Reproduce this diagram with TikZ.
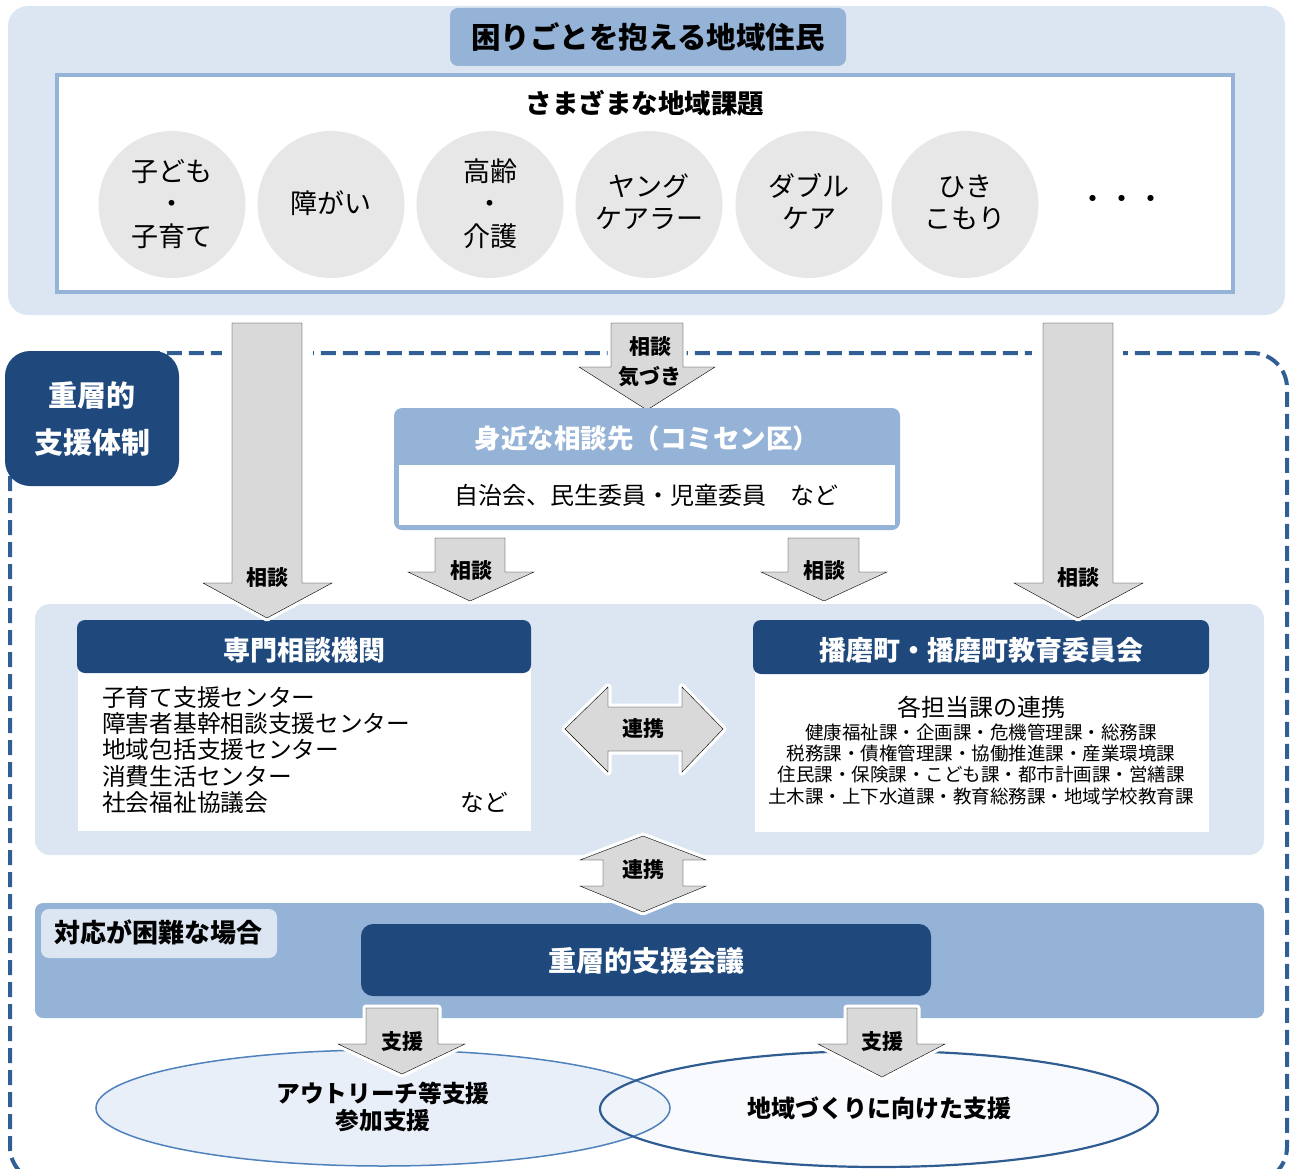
\documentclass[tikz,border=0pt]{standalone}
\usepackage{fontspec}
\setmainfont{Noto Sans CJK JP}
\definecolor{lb}{HTML}{DCE6F2}
\definecolor{mb}{HTML}{95B3D7}
\definecolor{db}{HTML}{1F497D}
\definecolor{ag}{HTML}{D9D9D9}
\definecolor{cg}{HTML}{E7E7E7}
\definecolor{dl}{HTML}{2F5F95}
\definecolor{ea}{HTML}{E9EFF8}
\definecolor{eb}{HTML}{F4F7FC}
\definecolor{eba}{HTML}{4F81BD}
\definecolor{ebb}{HTML}{2F5C91}
\newcommand\mytext[6][]{\node[anchor=base,inner sep=0pt,#1] (#2) at (#3,{#4+0.38*#5}) {\fontsize{#5pt}{#5pt}\selectfont #6};}
\begin{document}
\begin{tikzpicture}[x=1pt,y=-1pt,
  garrow/.style={fill=ag,preaction={draw=white,line width=7pt,line join=round}},
  dashline/.style={draw=dl,line width=4pt,dash pattern=on 15pt off 7pt},
  bx/.style={font=\bfseries},
  wb/.style={font=\bfseries,text=white},
  issue/.style={circle,fill=cg,minimum size=147pt,inner sep=0pt}]
\useasboundingbox (0,0) rectangle (1293,1169);

% ---------- top panel ----------
\fill[lb,rounded corners=20pt] (8,6) rectangle (1285,315);
\fill[mb,rounded corners=8pt] (450,8) rectangle (846,66);
\mytext[bx]{title}{648}{37}{29.5}{困りごとを抱える地域住民}
\draw[mb,line width=4pt,fill=white] (57,75) rectangle (1233,292);
\mytext[bx]{issues}{645}{103}{26.5}{さまざまな地域課題}

\node[issue] (c1) at (172,204.5) {};
\node[issue] (c2) at (331,204.5) {};
\node[issue] (c3) at (490,204.5) {};
\node[issue] (c4) at (649,204.5) {};
\node[issue] (c5) at (809,204.5) {};
\node[issue] (c6) at (965,204.5) {};
\mytext{c1a}{172}{171}{27}{子ども}
\mytext{c1b}{172}{203}{27}{・}
\mytext{c1c}{172}{236}{27}{子育て}
\mytext{c2a}{331}{203}{27}{障がい}
\mytext{c3a}{490}{171}{27}{高齢}
\mytext{c3b}{490}{203}{27}{・}
\mytext{c3c}{490}{236}{27}{介護}
\mytext{c4a}{649}{186}{27}{ヤング}
\mytext{c4b}{649}{218}{27}{ケアラー}
\mytext{c5a}{809}{186}{27}{ダブル}
\mytext{c5b}{809}{218}{27}{ケア}
\mytext{c6a}{965}{186}{27}{ひき}
\mytext{c6b}{965}{218}{27}{こもり}
\mytext{dots}{1122}{198}{29}{・・・}

% ---------- dashed frame ----------
\draw[dashline,rounded corners=35pt] (10,353) rectangle (1287,1182);
\fill[white] (222,342) rectangle (313,364);
\fill[white] (1032,342) rectangle (1123,364);

% ---------- panels ----------
\fill[lb,rounded corners=15pt] (35,604) rectangle (1264,855);
\fill[mb,rounded corners=8pt] (35,903) rectangle (1264,1018);

% middle top arrow (before the box)
\draw[garrow] (611,323) -- (683,323) -- (683,367) -- (715,367) -- (647,410) -- (579,367) -- (611,367) -- cycle;

% 身近な相談先
\fill[mb,rounded corners=8pt] (394,408) rectangle (900,530);
\fill[white] (399,465) rectangle (895,525);
\mytext[wb]{nearT}{647}{438}{26.5}{身近な相談先（コミセン区）}
\mytext{nearB}{646}{495}{24}{自治会、民生委員・児童委員　など}

% 専門相談機関
\fill[white] (78,660) rectangle (531,831);
\fill[db,rounded corners=8pt] (77,620) rectangle (531,673);
\mytext[wb]{speT}{304}{650}{27}{専門相談機関}
\mytext[anchor=base west]{sp1}{102}{697}{23.7}{子育て支援センター}
\mytext[anchor=base west]{sp2}{102}{723}{23.7}{障害者基幹相談支援センター}
\mytext[anchor=base west]{sp3}{102}{749}{23.7}{地域包括支援センター}
\mytext[anchor=base west]{sp4}{102}{776}{23.7}{消費生活センター}
\mytext[anchor=base west]{sp5}{102}{802}{23.7}{社会福祉協議会}
\mytext[anchor=base east]{sp6}{508}{802}{23.7}{など}

% 播磨町
\fill[white] (755,660) rectangle (1209,832);
\fill[db,rounded corners=8pt] (753,620) rectangle (1209,674);
\mytext[wb]{harT}{981}{650}{27}{播磨町・播磨町教育委員会}
\mytext{har0}{981}{707}{24}{各担当課の連携}
\mytext{har1}{981}{732}{18.5}{健康福祉課・企画課・危機管理課・総務課}
\mytext{har2}{981}{753}{18.5}{税務課・債権管理課・協働推進課・産業環境課}
\mytext{har3}{981}{774}{18.5}{住民課・保険課・こども課・都市計画課・営繕課}
\mytext{har4}{981}{796}{18.5}{土木課・上下水道課・教育総務課・地域学校教育課}

% bottom panel content
\fill[lb,rounded corners=8pt] (41,909) rectangle (277,958);
\mytext[bx]{hard}{158}{933}{26}{対応が困難な場合}
\fill[db,rounded corners=12pt] (361,924) rectangle (931,996);
\mytext[wb]{meet}{646}{961}{28}{重層的支援会議}

% ellipses
\fill[ea] (383,1108) ellipse [x radius=287, y radius=58];
\fill[eb,fill opacity=0.6] (879,1109) ellipse [x radius=279, y radius=58];
\draw[eba,line width=1.5pt] (383,1108) ellipse [x radius=287, y radius=58];
\draw[ebb,line width=2.2pt] (879,1109) ellipse [x radius=279, y radius=58];
\mytext[bx]{el1a}{383}{1093}{23.7}{アウトリーチ等支援}
\mytext[bx]{el1b}{383}{1120}{23.7}{参加支援}
\mytext[bx]{el2}{879}{1108}{24}{地域づくりに向けた支援}

% ---------- gray arrows ----------
\draw[garrow] (232,323) -- (302,323) -- (302,583) -- (332,583) -- (267,618) -- (203,583) -- (232,583) -- cycle;
\draw[garrow] (1043,323) -- (1113,323) -- (1113,583) -- (1143,583) -- (1078,618) -- (1014,583) -- (1043,583) -- cycle;
\draw[garrow] (435,538) -- (505,538) -- (505,572) -- (534,572) -- (470,601) -- (408,572) -- (435,572) -- cycle;
\draw[garrow] (788,538) -- (859,538) -- (859,572) -- (887,572) -- (824,601) -- (761,572) -- (788,572) -- cycle;
\draw[garrow] (565,729) -- (608,687) -- (608,707) -- (682,707) -- (682,687) -- (723,729) -- (682,772) -- (682,751) -- (608,751) -- (608,772) -- cycle;
\draw[garrow] (643,836) -- (706,860) -- (683,860) -- (683,886) -- (706,886) -- (643,912) -- (580,886) -- (603,886) -- (603,860) -- (580,860) -- cycle;
\draw[garrow] (366,1008) -- (438,1008) -- (438,1044) -- (465,1044) -- (402,1074) -- (338,1044) -- (366,1044) -- cycle;
\draw[garrow] (847,1008) -- (917,1008) -- (917,1044) -- (945,1044) -- (882,1077) -- (818,1044) -- (847,1044) -- cycle;

\mytext[bx]{la1}{267}{578}{21}{相談}
\mytext[bx]{la2a}{650}{347}{21}{相談}
\mytext[bx]{la2b}{650}{377}{21}{気づき}
\mytext[bx]{la3}{471}{571}{21}{相談}
\mytext[bx]{la4}{824}{571}{21}{相談}
\mytext[bx]{la5}{1078}{578}{21}{相談}
\mytext[bx]{lh}{643}{729}{21}{連携}
\mytext[bx]{lv}{643}{870}{21}{連携}
\mytext[bx]{ls1}{402}{1042}{21}{支援}
\mytext[bx]{ls2}{882}{1042}{21}{支援}

% ---------- 重層的支援体制 ----------
\fill[db,rounded corners=25pt] (5,351) rectangle (179,486);
\mytext[wb]{sysA}{92}{395}{29}{重層的}
\mytext[wb]{sysB}{92}{442}{29}{支援体制}
\end{tikzpicture}
\end{document}
